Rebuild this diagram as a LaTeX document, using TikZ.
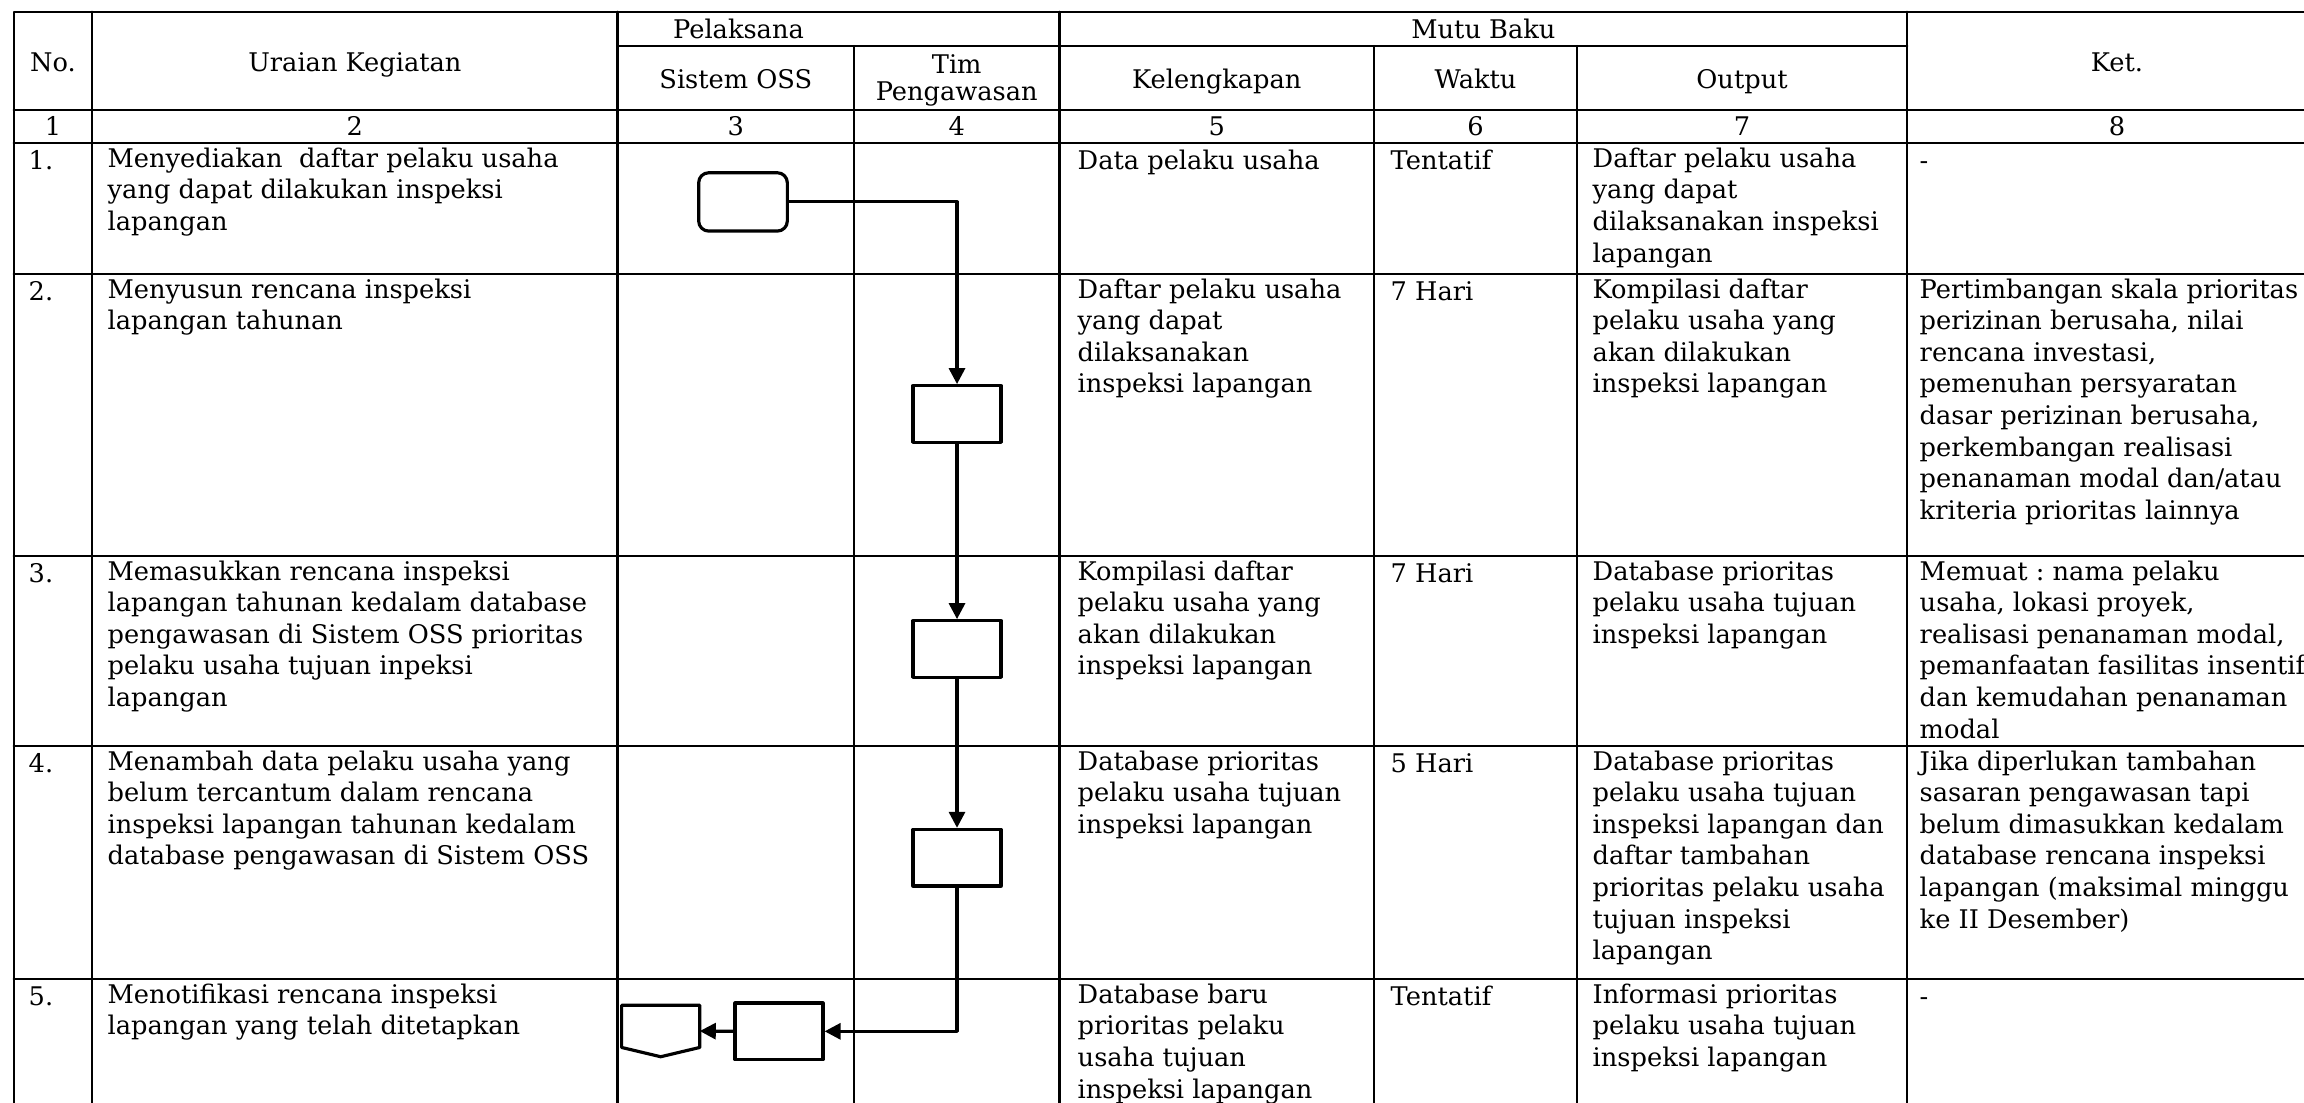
\documentclass[tikz,border=0pt]{standalone}
\usepackage{fontspec}
\setmainfont{DejaVu Serif}
\usetikzlibrary{arrows.meta,calc}
\frenchspacing

\begin{document}
\begin{tikzpicture}[x=0.01cm,y=-0.01cm,line join=round,line cap=round,
	>={Triangle[length=0.16cm,width=0.16cm]},
	font=\fontsize{7.3}{9}\selectfont,
	tabline/.style={line width=0.6pt},
	cell/.style={anchor=north west,inner sep=0pt,align=left,execute at begin node=\strut},
	head/.style={anchor=base,inner sep=0pt},
	proc/.style={draw,line width=0.9pt,minimum width=0.88cm,minimum height=0.566cm,inner sep=0pt},
	flow/.style={line width=0.9pt,->}]
	
	\useasboundingbox (0,0) rectangle (2304,1102);
	\clip (0,0) rectangle (2304,1102);
	
	% garis tabel
	\draw[tabline] (13.7,1120)--(13.7,11.7)--(2330,11.7);
	\draw[tabline] (617.5,46)--(1907.3,46);
	\foreach \y in {110,143.3,274,556,746,979.3}
		\draw[tabline] (13.7,\y)--(2330,\y);
	\foreach \x in {92.3,617.5,1059.5,1907.3}
		\draw[tabline] (\x,11.7)--(\x,1120);
	\foreach \x in {854,1374,1577}
		\draw[tabline] (\x,46)--(\x,1120);
	
	% kepala tabel
	\node[head] (hno) at (53,71.7) {No.};
	\node[head] (hurai) at (354.9,71.7) {Uraian Kegiatan};
	\node[head] (hpel) at (738.5,38.3) {Pelaksana};
	\node[head] (hmutu) at (1483.4,38.3) {Mutu Baku};
	\node[head] (hket) at (2117,71.7) {Ket.};
	\node[head] (hoss) at (735.8,88.3) {Sistem OSS};
	\node[head] (htim) at (956.7,73.3) {Tim};
	\node[head] (hpeng) at (956.7,100) {Pengawasan};
	\node[head] (hkel) at (1216.8,88.3) {Kelengkapan};
	\node[head] (hwkt) at (1475.5,88.3) {Waktu};
	\node[head] (hout) at (1742,88.3) {Output};
	\foreach \x/\n in {53/1,354.9/2,735.8/3,956.7/4,1216.8/5,1475.5/6,1742/7,2117/8}
		\node[head] (num\n) at (\x,135) {\n};
	
	% baris 1
	\node[cell] (r1no) at (28,147.1) {1.};
	\node[cell] (r1keg) at (107,147.1) {Menyediakan\ \ daftar pelaku usaha\\yang dapat dilakukan inspeksi\\lapangan};
	\node[cell] (r1kel) at (1077,147.1) {Data pelaku usaha};
	\node[cell] (r1wkt) at (1390,147.1) {Tentatif};
	\node[cell] (r1out) at (1592,147.1) {Daftar pelaku usaha\\yang dapat\\dilaksanakan inspeksi\\lapangan};
	\node[cell] (r1ket) at (1919,147.1) {-};
	
	% baris 2
	\node[cell] (r2no) at (28,277.8) {2.};
	\node[cell] (r2keg) at (107,277.8) {Menyusun rencana inspeksi\\lapangan tahunan};
	\node[cell] (r2kel) at (1077,277.8) {Daftar pelaku usaha\\yang dapat\\dilaksanakan\\inspeksi lapangan};
	\node[cell] (r2wkt) at (1390,277.8) {7 Hari};
	\node[cell] (r2out) at (1592,277.8) {Kompilasi daftar\\pelaku usaha yang\\akan dilakukan\\inspeksi lapangan};
	\node[cell] (r2ket) at (1919,277.8) {Pertimbangan skala prioritas\\perizinan berusaha, nilai\\rencana investasi,\\pemenuhan persyaratan\\dasar perizinan berusaha,\\perkembangan realisasi\\penanaman modal dan/atau\\kriteria prioritas lainnya};
	
	% baris 3
	\node[cell] (r3no) at (28,559.8) {3.};
	\node[cell] (r3keg) at (107,559.8) {Memasukkan rencana inspeksi\\lapangan tahunan kedalam database\\pengawasan di Sistem OSS prioritas\\pelaku usaha tujuan inpeksi\\lapangan};
	\node[cell] (r3kel) at (1077,559.8) {Kompilasi daftar\\pelaku usaha yang\\akan dilakukan\\inspeksi lapangan};
	\node[cell] (r3wkt) at (1390,559.8) {7 Hari};
	\node[cell] (r3out) at (1592,559.8) {Database prioritas\\pelaku usaha tujuan\\inspeksi lapangan};
	\node[cell] (r3ket) at (1919,559.8) {Memuat : nama pelaku\\usaha, lokasi proyek,\\realisasi penanaman modal,\\pemanfaatan fasilitas insentif\\dan kemudahan penanaman\\modal};
	
	% baris 4
	\node[cell] (r4no) at (28,749.8) {4.};
	\node[cell] (r4keg) at (107,749.8) {Menambah data pelaku usaha yang\\belum tercantum dalam rencana\\inspeksi lapangan tahunan kedalam\\database pengawasan di Sistem OSS};
	\node[cell] (r4kel) at (1077,749.8) {Database prioritas\\pelaku usaha tujuan\\inspeksi lapangan};
	\node[cell] (r4wkt) at (1390,749.8) {5 Hari};
	\node[cell] (r4out) at (1592,749.8) {Database prioritas\\pelaku usaha tujuan\\inspeksi lapangan dan\\daftar tambahan\\prioritas pelaku usaha\\tujuan inspeksi\\lapangan};
	\node[cell] (r4ket) at (1919,749.8) {Jika diperlukan tambahan\\sasaran pengawasan tapi\\belum dimasukkan kedalam\\database rencana inspeksi\\lapangan (maksimal minggu\\ke II Desember)};
	
	% baris 5
	\node[cell] (r5no) at (28,983.1) {5.};
	\node[cell] (r5keg) at (107,983.1) {Menotifikasi rencana inspeksi\\lapangan yang telah ditetapkan};
	\node[cell] (r5kel) at (1077,983.1) {Database baru\\prioritas pelaku\\usaha tujuan\\inspeksi lapangan};
	\node[cell] (r5wkt) at (1390,983.1) {Tentatif};
	\node[cell] (r5out) at (1592,983.1) {Informasi prioritas\\pelaku usaha tujuan\\inspeksi lapangan};
	\node[cell] (r5ket) at (1919,983.1) {-};
	
	% bagan alir
	\node[draw,line width=0.9pt,rounded corners=0.1cm,minimum width=0.886cm,minimum height=0.583cm,inner sep=0pt] (mulai) at (743,201.9) {};
	\node[proc] (susun) at (957,414) {};
	\node[proc] (masuk) at (957,649) {};
	\node[proc] (tambah) at (957,857.7) {};
	\node[proc] (tetap) at (779,1031.3) {};
	\node[minimum width=0.767cm,minimum height=0.5cm,inner sep=0pt] (notif) at (660.7,1031) {};
	\draw[line width=0.9pt] (notif.north west)--(notif.north east)--($(notif.south east)+(0,-9.3)$)
		--(notif.south)--($(notif.south west)+(0,-9.3)$)--cycle;
	
	\draw[flow] (mulai.east) -| (susun.north);
	\draw[flow] (susun) -- (masuk);
	\draw[flow] (masuk) -- (tambah);
	\draw[flow] (tambah.south) |- (tetap.east);
	\draw[flow] (tetap.west) -- (notif.east);
\end{tikzpicture}
\end{document}
